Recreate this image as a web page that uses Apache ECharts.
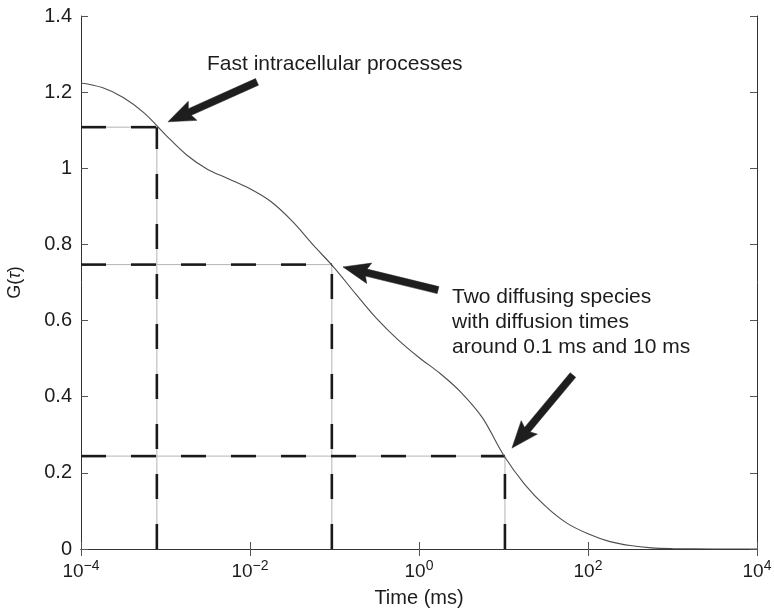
<!DOCTYPE html>
<html>
<head>
<meta charset="utf-8">
<script src="https://cdn.jsdelivr.net/npm/echarts@6/dist/echarts.min.js"></script>
<style>
  html, body { margin: 0; padding: 0; background: #ffffff; }
  #chart { width: 774px; height: 609px; }
</style>
</head>
<body>
<div id="chart"></div>
<script>
// Autocorrelation curve G(tau) versus lag time (ms), log time axis
const times = [1e-4, 1.78e-4, 3.16e-4, 5.62e-4, 1e-3, 1.78e-3, 3.16e-3, 5.62e-3,
               1e-2, 1.78e-2, 3.16e-2, 5.62e-2, 0.1, 0.178, 0.316, 0.562,
               1, 1.78, 3.16, 5.62, 10, 17.8, 31.6, 56.2,
               100, 178, 316, 562, 1000, 3160, 10000];
const gValues = [1.224, 1.212, 1.186, 1.145, 1.088, 1.035, 0.997, 0.972,
                 0.946, 0.912, 0.861, 0.798, 0.738, 0.670, 0.605, 0.550,
                 0.503, 0.461, 0.411, 0.345, 0.247, 0.170, 0.112, 0.068,
                 0.040, 0.020, 0.009, 0.003, 0.001, 0, 0];

// Characteristic times picked out with drop lines
const markTimes = [7.9e-4, 0.093, 10.4];
const markG = [1.108, 0.747, 0.244];

// Axis extents and tick labels
const xMin = 1e-4, xMax = 1e4;
const yMin = 0, yMax = 1.4, yStep = 0.2;
const xExponents = {'-4': '\u22124', '-2': '\u22122', '0': '0', '2': '2', '4': '4'};

// Annotation arrows: [tail, tip] in data units
const arrowTails = [[0.0121, 1.227], [1.68, 0.680], [66.4, 0.457]];
const arrowTips  = [[1.07e-3, 1.122], [0.126, 0.741], [12.6, 0.265]];
const noteFast = 'Fast intracellular processes';
const noteDiff = 'Two diffusing species\nwith diffusion times\naround 0.1 ms and 10 ms';

const FONT = '"Liberation Sans", Arial, Helvetica, sans-serif';
const chart = echarts.init(document.getElementById('chart'), null, {renderer: 'canvas'});

const curve = times.map((t, i) => [t, gValues[i]]);

const dropSeries = [];
markTimes.forEach((t, i) => {
  const g = markG[i];
  const segs = [[[xMin, g], [t, g]], [[t, yMin], [t, g]]];
  segs.forEach(seg => {
    dropSeries.push({
      type: 'line', data: seg, symbol: 'none', silent: true, z: 2,
      lineStyle: {color: '#b4b4b4', width: 1}
    });
    dropSeries.push({
      type: 'line', data: seg, symbol: 'none', silent: true, z: 3,
      lineStyle: {color: '#1a1a1a', width: 2.6, type: [25, 25], cap: 'butt'}
    });
  });
});

const axisLineStyle = {color: '#333', width: 1};
const tickStyle = {show: true, inside: true, length: 7, lineStyle: {color: '#555', width: 1}};

chart.setOption({
  animation: false,
  backgroundColor: '#ffffff',
  grid: {left: 81, right: 17, top: 16, bottom: 60, show: false,
         containLabel: false, outerBoundsMode: 'none'},
  xAxis: [{
    type: 'log', logBase: 100, min: xMin, max: xMax,
    axisLine: {show: true, lineStyle: axisLineStyle},
    axisTick: tickStyle,
    splitLine: {show: false},
    minorTick: {show: false},
    axisLabel: {
      margin: 10,
      formatter: v => '{b|10}{s|' + (xExponents[String(Math.round(Math.log10(v)))] || '') + '}',
      rich: {
        b: {fontFamily: FONT, fontSize: 19, color: '#1c1c1c', lineHeight: 22, verticalAlign: 'bottom'},
        s: {fontFamily: FONT, fontSize: 14, color: '#1c1c1c', lineHeight: 22, verticalAlign: 'top', padding: [0, 0, 6, 0]}
      }
    },
    name: 'Time (ms)', nameLocation: 'middle', nameGap: 39,
    nameTextStyle: {fontFamily: FONT, fontSize: 20, color: '#1c1c1c'}
  }, {
    type: 'log', logBase: 100, min: xMin, max: xMax, position: 'top',
    axisLine: {show: true, lineStyle: axisLineStyle},
    axisTick: tickStyle, axisLabel: {show: false}, splitLine: {show: false}
  }],
  yAxis: [{
    type: 'value', min: yMin, max: yMax, interval: yStep,
    axisLine: {show: true, lineStyle: axisLineStyle},
    axisTick: tickStyle,
    splitLine: {show: false},
    axisLabel: {margin: 9, fontFamily: FONT, fontSize: 20, color: '#1c1c1c'},
    name: '{n|G(}{i|\u03c4}{n|)}', nameLocation: 'middle', nameRotate: 90, nameGap: 57,
    nameTextStyle: {
      rich: {
        n: {fontFamily: FONT, fontSize: 18, color: '#1c1c1c'},
        i: {fontFamily: FONT, fontSize: 18, fontStyle: 'italic', color: '#1c1c1c'}
      }
    }
  }, {
    type: 'value', min: yMin, max: yMax, interval: yStep, position: 'right',
    axisLine: {show: true, lineStyle: axisLineStyle},
    axisTick: tickStyle, axisLabel: {show: false}, splitLine: {show: false}
  }],
  series: dropSeries.concat([{
    type: 'line', data: curve, symbol: 'none', smooth: 0.35, z: 4, silent: true,
    lineStyle: {color: '#4d4d4d', width: 1.1}
  }])
});

// Arrow glyphs built in pixel space from their data-space anchors
function arrowPolygon(tail, tip) {
  const a = chart.convertToPixel({xAxisIndex: 0, yAxisIndex: 0}, tail);
  const b = chart.convertToPixel({xAxisIndex: 0, yAxisIndex: 0}, tip);
  const dx = b[0] - a[0], dy = b[1] - a[1];
  const len = Math.hypot(dx, dy);
  const ux = dx / len, uy = dy / len, nx = -uy, ny = ux;
  const shaft = 3.6, headLen = 24, headHalf = 10.5, notch = 3;
  const neck = [b[0] - ux * headLen, b[1] - uy * headLen];
  const barb = [b[0] - ux * (headLen + notch), b[1] - uy * (headLen + notch)];
  return [
    [a[0] + nx * shaft, a[1] + ny * shaft],
    [neck[0] + nx * shaft, neck[1] + ny * shaft],
    [barb[0] + nx * headHalf, barb[1] + ny * headHalf],
    b,
    [barb[0] - nx * headHalf, barb[1] - ny * headHalf],
    [neck[0] - nx * shaft, neck[1] - ny * shaft],
    [a[0] - nx * shaft, a[1] - ny * shaft]
  ];
}

const graphics = arrowTails.map((t, i) => ({
  type: 'polygon', z: 10, silent: true,
  shape: {points: arrowPolygon(t, arrowTips[i])},
  style: {fill: '#1e1e1e', stroke: '#1e1e1e', lineWidth: 0.5}
}));

graphics.push({
  type: 'text', x: 207, y: 52, z: 10, silent: true,
  style: {text: noteFast, font: '21px ' + FONT, fill: '#1c1c1c', lineHeight: 25, verticalAlign: 'top'}
});
graphics.push({
  type: 'text', x: 452, y: 285, z: 10, silent: true,
  style: {text: noteDiff, font: '21px ' + FONT, fill: '#1c1c1c', lineHeight: 25, verticalAlign: 'top'}
});

chart.setOption({graphic: graphics});
</script>
</body>
</html>
